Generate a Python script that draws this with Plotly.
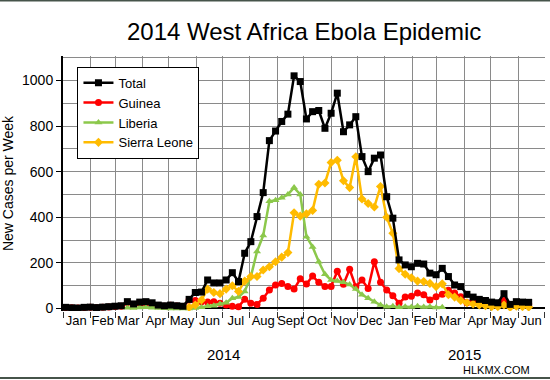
import plotly.graph_objects as go

weeks = [
    "2014-01-04", "2014-01-11", "2014-01-18", "2014-01-25", "2014-02-01", "2014-02-08", "2014-02-15", "2014-02-22",
    "2014-03-01", "2014-03-08", "2014-03-15", "2014-03-22", "2014-03-29", "2014-04-05", "2014-04-12", "2014-04-19",
    "2014-04-26", "2014-05-03", "2014-05-10", "2014-05-17", "2014-05-24", "2014-05-31", "2014-06-07", "2014-06-14",
    "2014-06-21", "2014-06-28", "2014-07-05", "2014-07-12", "2014-07-19", "2014-07-26", "2014-08-02", "2014-08-09",
    "2014-08-16", "2014-08-23", "2014-08-30", "2014-09-06", "2014-09-13", "2014-09-20", "2014-09-27", "2014-10-04",
    "2014-10-11", "2014-10-18", "2014-10-25", "2014-11-01", "2014-11-08", "2014-11-15", "2014-11-22", "2014-11-29",
    "2014-12-06", "2014-12-13", "2014-12-20", "2014-12-27", "2015-01-03", "2015-01-10", "2015-01-17", "2015-01-24",
    "2015-01-31", "2015-02-07", "2015-02-14", "2015-02-21", "2015-02-28", "2015-03-07", "2015-03-14", "2015-03-21",
    "2015-03-28", "2015-04-04", "2015-04-11", "2015-04-18", "2015-04-25", "2015-05-02", "2015-05-09", "2015-05-16",
    "2015-05-23", "2015-05-30", "2015-06-06", "2015-06-13",
]

total = [5, 3, 2, 5, 6, 4, 6, 8, 10, 12, 30, 20, 28, 30, 25, 15, 12, 15, 12, 10,
         40, 70, 72, 125, 112, 112, 125, 157, 118, 242, 293, 403, 508, 736, 778, 820, 852, 1020, 995, 831,
         863, 868, 790, 856, 944, 775, 805, 841, 666, 600, 659, 673, 490, 396, 213, 191, 183, 198, 195, 155,
         148, 176, 140, 103, 96, 62, 50, 40, 35, 28, 25, 65, 18, 30, 28, 27]

guinea = [4, 3, 2, 4, 5, 3, 5, 7, 9, 10, 26, 17, 23, 24, 21, 12, 10, 14, 11, 9,
          37, 35, 30, 28, 30, 23, 15, 10, 8, 40, 23, 18, 45, 81, 103, 110, 96, 85, 130, 107,
          142, 115, 96, 96, 163, 106, 172, 95, 125, 88, 205, 115, 81, 56, 23, 50, 54, 68, 60, 37,
          52, 62, 80, 68, 52, 25, 35, 30, 28, 25, 20, 35, 15, 20, 22, 20]

liberia = [None, None, None, None, None, None, None, None, None, None, 3, 2, 4, 5, 3, 2, 1, 0, 0, 0,
           0, 2, 5, 10, 12, 20, 25, 45, 50, 75, 140, 250, 320, 470, 475, 485, 500, 530, 500, 315,
           270, 205, 150, 125, 120, 115, 105, 85, 60, 45, 30, 15, 8, 10, 5, 8, 6, 10, 6, 8,
           4, 5, None, None, None, None, None, None, None, None, None, None, None, None, None, None]

sierra_leone = [None, None, None, None, None, None, None, None, None, None, None, None, None, None, None, None, None, None, None, None,
                5, 15, 37, 85, 70, 65, 85, 100, 75, 120, 140, 140, 169, 183, 205, 225, 245, 420, 405, 415,
                430, 545, 550, 640, 650, 560, 530, 665, 480, 460, 445, 535, 400, 330, 175, 150, 135, 120, 118, 110,
                96, 108, 60, 50, 35, 25, 20, 15, 12, 8, 8, 15, 5, 10, 8, 6]

month_mid = ["2014-01-16", "2014-02-15", "2014-03-16", "2014-04-16", "2014-05-16", "2014-06-16",
             "2014-07-16", "2014-08-16", "2014-09-16", "2014-10-16", "2014-11-16", "2014-12-16",
             "2015-01-16", "2015-02-15", "2015-03-16", "2015-04-16", "2015-05-16", "2015-06-16"]
month_labels = ["Jan", "Feb", "Mar", "Apr", "May", "Jun", "Jul", "Aug", "Sept", "Oct", "Nov", "Dec",
                "Jan", "Feb", "Mar", "Apr", "May", "Jun"]
years = ["2014", "2015"]
year_mid = ["2014-07-02", "2015-04-01"]

FONT = "Liberation Sans, Arial, Helvetica, sans-serif"

series = [
    ("Guinea", guinea, "#ff0000", "circle", 2),
    ("Liberia", liberia, "#8cc84b", "triangle-up", 3),
    ("Sierra Leone", sierra_leone, "#ffbb00", "diamond", 4),
    ("Total", total, "#000000", "square", 1),
]

fig = go.Figure()
for name, vals, col, sym, rank in series:
    fig.add_trace(go.Scatter(
        x=weeks, y=vals, name=name, mode="lines+markers",
        line=dict(color=col, width=2.5),
        marker=dict(color=col, symbol=sym, size=7),
        legendrank=rank, connectgaps=False,
    ))

annotations = [
    dict(x=xm, y=-0.172, xref="x", yref="paper", text=yl, showarrow=False,
         font=dict(size=15, color="black", family=FONT), xanchor="center", yanchor="middle")
    for xm, yl in zip(year_mid, years)
]
annotations.append(dict(x=0.9, y=-0.232, xref="paper", yref="paper", text="HLKMX.COM", showarrow=False,
                        font=dict(size=11, color="black", family=FONT), xanchor="center", yanchor="middle"))

fig.update_layout(
    width=550, height=380,
    margin=dict(l=63, r=5, t=56, b=69, autoexpand=False),
    paper_bgcolor="white", plot_bgcolor="white",
    font=dict(family=FONT, color="black", size=13),
    title=dict(text="2014 West Africa Ebola Epidemic", x=0.553, xanchor="center", y=0.918, yanchor="middle",
               font=dict(size=24, family=FONT, color="black")),
    showlegend=True,
    legend=dict(x=0.03, y=0.958, xanchor="left", yanchor="top", bgcolor="white",
                bordercolor="black", borderwidth=1, font=dict(size=13, family=FONT),
                tracegroupgap=0),
    annotations=annotations,
    shapes=[
        dict(type="line", xref="paper", yref="paper", x0=-0.2, x1=1.1, y0=1.2176, y1=1.2176,
             line=dict(color="#46544a", width=2)),
        dict(type="line", xref="paper", yref="paper", x0=-0.2, x1=1.1, y0=-0.2627, y1=-0.2627,
             line=dict(color="#46544a", width=2)),
    ],
)

fig.update_xaxes(
    type="date", range=["2014-01-01", "2015-07-01 12:00"], automargin=False,
    tickmode="array", tickvals=month_mid, ticktext=month_labels, ticks="",
    showgrid=False, showline=False, zeroline=False,
    tickfont=dict(size=13, family=FONT, color="black"),
    minor=dict(tickmode="linear", tick0="2014-01-01", dtick="M1", ticks="outside", ticklen=6,
               tickcolor="#333333", tickwidth=1, showgrid=True, gridcolor="#8a8a8a", gridwidth=1),
)

fig.update_yaxes(
    range=[-11, 1107], tickmode="linear", tick0=0, dtick=200, automargin=False,
    ticks="outside", ticklen=5, tickcolor="black", tickwidth=1,
    showgrid=True, gridcolor="#8a8a8a", gridwidth=1,
    minor=dict(tickmode="linear", tick0=0, dtick=100, showgrid=True, gridcolor="#8a8a8a", gridwidth=1, ticks=""),
    showline=True, linecolor="black", linewidth=2,
    zeroline=True, zerolinecolor="black", zerolinewidth=1.5,
    tickfont=dict(size=14, family=FONT, color="black"),
    title=dict(text="New Cases per Week", font=dict(size=14, family=FONT, color="black"), standoff=8),
)

fig.write_html(
    "out.html", config={"displayModeBar": False},
    post_script=("document.body.style.margin='0';document.body.style.padding='0';"
                 "document.documentElement.style.overflow='hidden';document.body.style.overflow='hidden';"),
)
